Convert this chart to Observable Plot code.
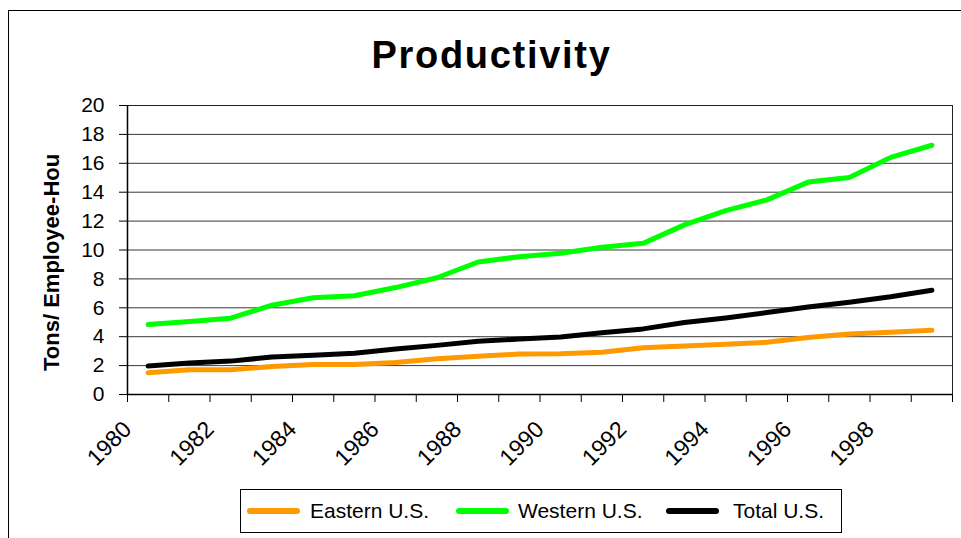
<!DOCTYPE html>
<html>
<head>
<meta charset="utf-8">
<script src="https://cdn.jsdelivr.net/npm/d3@7"></script>
<script src="https://cdn.jsdelivr.net/npm/@observablehq/plot@0.6"></script>
<style>
  html, body { margin: 0; padding: 0; background: #fff; }
  body { width: 961px; height: 538px; position: relative; overflow: hidden; font-family: "Liberation Sans", Arial, sans-serif; }
  #frame { position: absolute; left: 8px; top: 10px; width: 1000px; height: 600px; border-left: 1px solid #000; border-top: 1px solid #000; }
  #title { position: absolute; left: 0; width: 983px; top: 31px; text-align: center; font-size: 38px; font-weight: bold; letter-spacing: 1.7px; color: #000; line-height: 48px; }
  #chart { position: absolute; left: 0; top: 0; }
  #legend { position: absolute; left: 240px; top: 489px; width: 602px; height: 44px; border: 1px solid #000; background: #fff; box-sizing: border-box; }
  .sw { position: absolute; top: 18px; height: 6px; width: 53px; border-radius: 3px; }
  .lt { position: absolute; top: 8px; font-size: 21px; line-height: 26px; color: #000; white-space: nowrap; }
</style>
</head>
<body>
<div id="frame"></div>
<div id="chart"></div>
<div id="title">Productivity</div>
<div id="legend"></div>
<script>
const years = [1980,1981,1982,1983,1984,1985,1986,1987,1988,1989,1990,1991,1992,1993,1994,1995,1996,1997,1998,1999];
const eastern = [1.50,1.71,1.71,1.94,2.08,2.08,2.22,2.48,2.64,2.80,2.82,2.92,3.24,3.36,3.47,3.61,3.94,4.19,4.31,4.44];
const western = [4.84,5.05,5.28,6.18,6.69,6.83,7.40,8.08,9.17,9.54,9.77,10.19,10.46,11.74,12.73,13.47,14.70,15.02,16.41,17.25];
const total   = [1.97,2.18,2.31,2.59,2.71,2.85,3.15,3.40,3.68,3.84,3.98,4.28,4.54,4.98,5.30,5.67,6.06,6.39,6.76,7.22];
const seriesNames = ["Eastern U.S.", "Western U.S.", "Total U.S."];
const seriesColors = ["#FF9900", "#00FF00", "#000000"];
const xTickLabels = [1980,1982,1984,1986,1988,1990,1992,1994,1996,1998];
const yTicks = [0,2,4,6,8,10,12,14,16,18,20];
const yLabel = "Tons/ Employee-Hou";
const titleText = "Productivity";

document.getElementById("title").textContent = titleText;

const allValues = [eastern, western, total];
const rows = [];
seriesNames.forEach((s, i) => {
  years.forEach((y, j) => rows.push({series: s, year: y + 0.5, value: allValues[i][j]}));
});
const tickYears = d3.range(years[0], years[years.length - 1] + 2);

const chart = Plot.plot({
  width: 961,
  height: 538,
  marginLeft: 127,
  marginRight: 9,
  marginTop: 105,
  marginBottom: 144,
  style: {fontFamily: "Liberation Sans, Arial, sans-serif", background: "transparent", color: "#000"},
  x: {domain: [1980, 2000]},
  y: {domain: [0, 20]},
  color: {domain: seriesNames, range: seriesColors},
  marks: [
    Plot.gridY(yTicks, {stroke: "#222", strokeOpacity: 0.9, strokeWidth: 1}),
    Plot.frame({stroke: "#222", strokeWidth: 1}),
    Plot.axisY(yTicks, {tickSize: 8, tickPadding: 15, fontSize: 21, label: null, stroke: "#000"}),
    Plot.axisX(tickYears, {tickSize: 8, tickFormat: () => "", label: null, stroke: "#000"}),
    Plot.axisX(xTickLabels, {tickSize: 0, tickPadding: 31, tickRotate: -45, fontSize: 23, label: null, tickFormat: d => String(d)}),
    Plot.ruleY([0], {stroke: "#000", strokeWidth: 1.5}),
    Plot.ruleX([1980], {stroke: "#000", strokeWidth: 1.5}),
    Plot.line(rows, {x: "year", y: "value", z: "series", stroke: "series", strokeWidth: 5, strokeLinecap: "round", strokeLinejoin: "round"}),
    Plot.text([yLabel], {frameAnchor: "left", dx: -76, dy: 121, rotate: -90, textAnchor: "start", text: d => d, fontSize: 22, fontWeight: "bold", fill: "#000"})
  ]
});
document.getElementById("chart").appendChild(chart);

const legend = document.getElementById("legend");
const swLeft = [6, 215, 425];
const txLeft = [69, 277, 492];
seriesNames.forEach((s, i) => {
  const sw = document.createElement("div");
  sw.className = "sw";
  sw.style.left = swLeft[i] + "px";
  sw.style.background = seriesColors[i];
  legend.appendChild(sw);
  const t = document.createElement("div");
  t.className = "lt";
  t.style.left = txLeft[i] + "px";
  t.textContent = s;
  legend.appendChild(t);
});
</script>
</body>
</html>
